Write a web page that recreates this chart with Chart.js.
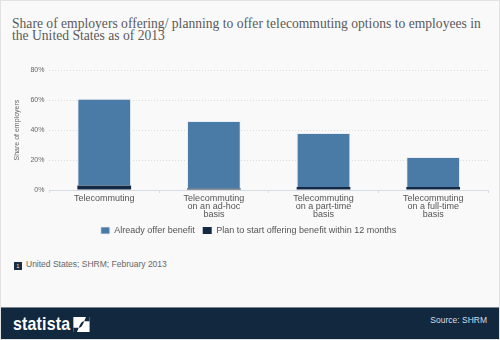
<!DOCTYPE html>
<html>
<head>
<meta charset="utf-8">
<script src="https://cdn.jsdelivr.net/npm/chart.js@4"></script>
<style>
  html, body { margin: 0; padding: 0; background: #fff; }
  #frame {
    position: relative; width: 498px; height: 338px;
    background: #f9f9f9; border: 1px solid #e2e2e2; overflow: hidden;
  }
  #title {
    position: absolute; left: 11px; top: 17px; width: 485px;
    font: 13.6px "Liberation Serif", Georgia, serif; line-height: 12px;
    color: #5a5a5a;
  }
  #chartBox { position: absolute; left: 0; top: 60px; width: 498px; height: 178px; }
  #note {
    position: absolute; left: 13px; top: 258px;
    font: 8.5px "Liberation Sans", Arial, sans-serif; color: #666;
  }
  #note span.ico {
    display: inline-block; width: 8px; height: 8px; background: #1b2d45;
    color: #fff; font-size: 5px; line-height: 8px; text-align: center;
    vertical-align: -1px; margin-right: 4px;
  }
  #footer {
    position: absolute; left: 0; top: 306px; width: 498px; height: 32px;
    background: #12283f; border-top: 1px solid #7a8696;
  }
  #logo {
    position: absolute; left: 12px; top: 5px; transform-origin: left top;
    transform: scaleX(0.84);
    font: bold 19px "Liberation Sans Narrow", "Liberation Sans", Arial, sans-serif;
    color: #fff; letter-spacing: 0.2px; white-space: nowrap;
  }
  #logo svg { vertical-align: -2px; margin-left: 3px; }
  #source {
    position: absolute; right: 12px; top: 7px;
    font: 8.5px "Liberation Sans", Arial, sans-serif; color: #d8dde4;
  }
</style>
</head>
<body>
<div id="frame">
  <div id="title">Share of employers offering/ planning to offer telecommuting options to employees in the United States as of 2013</div>
  <div id="chartBox"><canvas id="chart"></canvas></div>
  <div id="note"><span class="ico">1</span>United States; SHRM; February 2013</div>
  <div id="footer">
    <div id="logo">statista<svg width="21" height="15" viewBox="0 0 18 14"><rect width="18" height="14" fill="#fff"/><path d="M0 14 L0 10 L6 10 Q9 10 11 6 L14 0 L18 0 L18 4 L12 4 Q9 4 7 8 L4 14 Z" fill="#12283f"/></svg></div>
    <div id="source">Source: SHRM</div>
  </div>
</div>
<script>
const categories = [
  'Telecommuting',
  ['Telecommuting', 'on an ad-hoc', 'basis'],
  ['Telecommuting', 'on a part-time', 'basis'],
  ['Telecommuting', 'on a full-time', 'basis']
];
const alreadyOffer = [58, 45, 36, 20];
const planToOffer = [3, 1, 2, 2];
const yTicks = [0, 20, 40, 60, 80];

const sans = '"Liberation Sans", Arial, sans-serif';

// legend keeps its wide item spacing but loses some of its bottom padding
const legendTrim = {
  id: 'legendTrim',
  beforeLayout(chart) {
    const legend = chart.legend
    if (legend && !legend._trimmed) {
      const fit = legend.fit
      legend.fit = function () {
        fit.call(this)
        this.height -= 6
      }
      legend._trimmed = true
    }
  }
}

new Chart(document.getElementById('chart'), {
  type: 'bar',
  plugins: [legendTrim],
  data: {
    labels: categories,
    datasets: [
      {
        label: 'Plan to start offering benefit within 12 months',
        data: planToOffer,
        backgroundColor: '#142a44',
        borderWidth: 0,
        barPercentage: 0.5,
        categoryPercentage: 0.98
      },
      {
        label: 'Already offer benefit',
        data: alreadyOffer,
        backgroundColor: '#4a7aa6',
        borderColor: '#e8eef4',
        borderWidth: {left: 1, right: 1, top: 1, bottom: 0},
        barPercentage: 0.5,
        categoryPercentage: 0.98
      }
    ]
  },
  options: {
    responsive: true,
    maintainAspectRatio: false,
    animation: false,
    layout: {padding: {left: 8, right: 11, top: 0, bottom: 0}},
    plugins: {
      legend: {
        position: 'bottom',
        reverse: true,
        labels: {
          color: '#555',
          font: {family: sans, size: 9},
          boxWidth: 9,
          boxHeight: 7,
          padding: 8
        }
      },
      tooltip: {enabled: false}
    },
    scales: {
      x: {
        stacked: true,
        afterFit: (scale) => { scale.height = 28 },
        grid: {drawOnChartArea: false, drawTicks: true, tickLength: 3, color: '#d8dde4'},
        border: {color: '#d8dde4'},
        ticks: {color: '#555', font: {family: sans, size: 9, lineHeight: 0.92}, maxRotation: 0, padding: 1}
      },
      y: {
        stacked: true,
        min: 0,
        max: 80,
        afterBuildTicks: (axis) => { axis.ticks = yTicks.map(v => ({value: v})) },
        grid: {color: '#dcdcdc', drawTicks: false},
        border: {display: false, dash: [1, 2]},
        ticks: {
          color: '#666',
          font: {family: sans, size: 7},
          padding: 5,
          callback: (v) => v + '%'
        },
        title: {
          display: true,
          text: 'Share of employers',
          color: '#666',
          font: {family: sans, size: 7},
          padding: {bottom: 4}
        }
      }
    }
  }
});
</script>
</body>
</html>
